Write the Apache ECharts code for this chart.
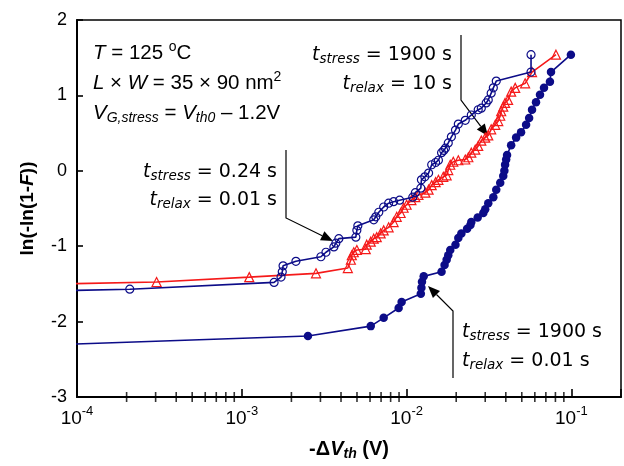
<!DOCTYPE html>
<html>
<head>
<meta charset="utf-8">
<script src="https://cdn.jsdelivr.net/npm/echarts@6.0.0/dist/echarts.min.js"></script>
<style>
  html, body { margin: 0; padding: 0; background: #fff; }
  #chart { width: 624px; height: 466px; }
</style>
</head>
<body>
<div id="chart"></div>
<script>
// t_stress = 0.24 s, t_relax = 0.01 s  (open circles)
const openX = [5e-5, 2.09e-4, 1.57e-3, 1.73e-3, 1.76e-3, 1.78e-3, 2.13e-3, 3.02e-3, 3.24e-3, 3.62e-3,
  3.72e-3, 3.88e-3, 4.92e-3, 4.99e-3, 5.06e-3, 6.32e-3, 6.5e-3, 6.78e-3, 7.26e-3, 7.78e-3,
  8.34e-3, 9.07e-3, 1.09e-2, 1.13e-2, 1.22e-2, 1.23e-2, 1.29e-2, 1.36e-2, 1.42e-2, 1.5e-2,
  1.56e-2, 1.63e-2, 1.68e-2, 1.72e-2, 1.79e-2, 1.87e-2, 1.98e-2, 2.06e-2, 2.27e-2, 2.47e-2,
  2.72e-2, 2.84e-2, 3.04e-2, 3.13e-2, 3.26e-2, 3.36e-2, 3.5e-2, 5.69e-2, 5.69e-2];
const openY = [-1.60, -1.57, -1.48, -1.41, -1.34, -1.26, -1.20, -1.14, -1.08, -1.01,
  -0.96, -0.90, -0.88, -0.79, -0.73, -0.65, -0.61, -0.55, -0.48, -0.43,
  -0.41, -0.39, -0.35, -0.29, -0.23, -0.12, -0.08, -0.03, 0.08, 0.11,
  0.14, 0.24, 0.27, 0.30, 0.37, 0.45, 0.54, 0.62, 0.67, 0.74,
  0.81, 0.83, 0.90, 0.94, 1.03, 1.10, 1.19, 1.31, 1.54];

// t_stress = 1900 s, t_relax = 10 s  (open triangles)
const triX = [5e-5, 3.04e-4, 1.11e-3, 2.82e-3, 4.4e-3, 4.59e-3, 4.65e-3, 4.78e-3, 4.99e-3, 5.65e-3,
  5.73e-3, 6.06e-3, 6.32e-3, 6.59e-3, 6.96e-3, 7.26e-3, 7.78e-3, 8.34e-3, 8.71e-3, 9.2e-3,
  9.59e-3, 1.0e-2, 1.07e-2, 1.13e-2, 1.18e-2, 1.3e-2, 1.36e-2, 1.42e-2, 1.5e-2, 1.56e-2,
  1.67e-2, 1.75e-2, 1.79e-2, 1.84e-2, 1.92e-2, 2.06e-2, 2.27e-2, 2.37e-2, 2.47e-2, 2.61e-2,
  2.72e-2, 2.84e-2, 3.0e-2, 3.13e-2, 3.26e-2, 3.45e-2, 3.6e-2, 3.7e-2, 3.75e-2, 3.86e-2,
  3.96e-2, 4.13e-2, 4.31e-2, 4.56e-2, 5.24e-2, 5.77e-2, 8.06e-2];
const triY = [-1.51, -1.475, -1.41, -1.36, -1.29, -1.18, -1.12, -1.08, -1.05, -1.04,
  -0.98, -0.94, -0.90, -0.88, -0.83, -0.79, -0.75, -0.68, -0.61, -0.56,
  -0.49, -0.45, -0.39, -0.35, -0.32, -0.29, -0.25, -0.19, -0.15, -0.12,
  -0.08, -0.06, 0.01, 0.08, 0.12, 0.14, 0.15, 0.18, 0.24, 0.28,
  0.33, 0.40, 0.44, 0.47, 0.55, 0.61, 0.66, 0.73, 0.79, 0.85,
  0.90, 0.94, 1.05, 1.10, 1.16, 1.31, 1.54];

// t_stress = 1900 s, t_relax = 0.01 s  (filled circles)
const fillX = [5e-5, 2.52e-3, 6.06e-3, 7.26e-3, 8.95e-3, 9.33e-3, 1.22e-2, 1.23e-2, 1.24e-2, 1.27e-2,
  1.63e-2, 1.7e-2, 1.75e-2, 1.79e-2, 1.84e-2, 1.98e-2, 2.06e-2, 2.15e-2, 2.33e-2, 2.44e-2,
  2.47e-2, 2.7e-2, 2.92e-2, 3.0e-2, 3.13e-2, 3.36e-2, 3.5e-2, 3.7e-2, 3.86e-2, 3.92e-2,
  3.96e-2, 4.02e-2, 4.07e-2, 4.31e-2, 4.62e-2, 4.95e-2, 5.31e-2, 5.54e-2, 5.77e-2, 6.1e-2,
  6.45e-2, 6.82e-2, 7.41e-2, 7.52e-2, 9.93e-2];
const fillY = [-2.32, -2.19, -2.06, -1.95, -1.82, -1.74, -1.63, -1.55, -1.47, -1.40,
  -1.34, -1.25, -1.18, -1.12, -1.05, -0.98, -0.89, -0.83, -0.77, -0.72,
  -0.68, -0.62, -0.56, -0.51, -0.43, -0.35, -0.25, -0.16, -0.07, 0.0,
  0.08, 0.15, 0.21, 0.34, 0.44, 0.51, 0.61, 0.70, 0.81, 0.91,
  1.01, 1.10, 1.18, 1.31, 1.54];

const yTicks = [-3, -2, -1, 0, 1, 2];

const navy = '#0c0c88';
const red = '#f51a1a';

const zip = (xs, ys) => xs.map((x, i) => [x, ys[i]]);

// minor ticks 2..9 of each decade on the log axis
const minorTicks = [];
for (let d = -4; d <= -1; d++) {
  for (let k = 2; k <= 9; k++) {
    const v = k * Math.pow(10, d);
    if (v < 0.2) minorTicks.push([v, -3]);
  }
}

const chart = echarts.init(document.getElementById('chart'));

const subFont = { fontFamily: 'DejaVu Sans', fontSize: 13.5, fontStyle: 'italic', padding: [9, 0, 0, 0], fill: '#000', color: '#000' };
const annRich = {
  t: { fontFamily: 'DejaVu Sans', fontSize: 19, fontStyle: 'italic', fill: '#000', color: '#000' },
  s: subFont,
  n: { fontFamily: 'DejaVu Sans', fontSize: 19, fill: '#000', color: '#000' }
};
const infoRich = {
  i: { fontFamily: 'Liberation Sans', fontSize: 20.5, fontStyle: 'italic', fill: '#000', color: '#000' },
  n: { fontFamily: 'Liberation Sans', fontSize: 20.5, fill: '#000', color: '#000' },
  sup: { fontFamily: 'Liberation Sans', fontSize: 14, padding: [0, 0, 12, 0], fill: '#000', color: '#000' },
  sub: { fontFamily: 'Liberation Sans', fontSize: 14, fontStyle: 'italic', padding: [10, 0, 0, 0], fill: '#000', color: '#000' }
};

function txt(x, y, text, rich, align) {
  return { type: 'text', x: x, y: y, silent: true,
    style: { text: text, rich: rich, align: align, verticalAlign: 'middle', fill: '#000' } };
}

function arrow(pts) {
  const tip = pts[pts.length - 1], prev = pts[pts.length - 2];
  const dx = tip[0] - prev[0], dy = tip[1] - prev[1];
  const len = Math.sqrt(dx * dx + dy * dy);
  const ux = dx / len, uy = dy / len;
  const hl = 12, hw = 5;
  const bx = tip[0] - ux * hl, by = tip[1] - uy * hl;
  const linePts = pts.slice(0, -1).concat([[bx, by]]);
  return [
    { type: 'polyline', silent: true, shape: { points: linePts }, style: { stroke: '#000', lineWidth: 1.2, fill: null } },
    { type: 'polygon', silent: true, shape: { points: [tip, [bx - uy * hw, by + ux * hw], [bx + uy * hw, by - ux * hw]] }, style: { fill: '#000' } }
  ];
}

const graphics = [
  txt(93, 53, '{i|T}{n| = 125 }{sup|o}{n|C}', infoRich, 'left'),
  txt(93, 83, '{i|L}{n| × }{i|W}{n| = 35 × 90 nm}{sup|2}', infoRich, 'left'),
  txt(93, 113, '{i|V}{sub|G,stress}{n| = }{i|V}{sub|th0}{n| – 1.2V}', infoRich, 'left'),

  txt(452, 55, '{t|t}{s|stress}{n| = 1900 s}', annRich, 'right'),
  txt(452, 84, '{t|t}{s|relax}{n| = 10 s}', annRich, 'right'),

  txt(277, 172, '{t|t}{s|stress}{n| = 0.24 s}', annRich, 'right'),
  txt(277, 200, '{t|t}{s|relax}{n| = 0.01 s}', annRich, 'right'),

  txt(462, 332, '{t|t}{s|stress}{n| = 1900 s}', annRich, 'left'),
  txt(462, 361, '{t|t}{s|relax}{n| = 0.01 s}', annRich, 'left')
].concat(
  arrow([[461, 35], [461, 100], [488, 136]]),
  arrow([[286, 150], [286, 218], [333, 241]]),
  arrow([[453, 378], [453, 311], [428, 286]])
);

const option = {
  animation: false,
  backgroundColor: '#fff',
  grid: { left: 77, right: 3, top: 20, bottom: 69, show: true, borderColor: '#000', borderWidth: 1.5 },
  xAxis: {
    type: 'log',
    logBase: 10,
    min: 1e-4,
    max: 0.2,
    name: '{b|-Δ}{bi|V}{sub|th}{b| (V)}',
    nameLocation: 'middle',
    nameGap: 40,
    nameTextStyle: {
      rich: {
        b: { fontFamily: 'Liberation Sans', fontSize: 20, fontWeight: 'bold', color: '#000' },
        bi: { fontFamily: 'Liberation Sans', fontSize: 20, fontWeight: 'bold', fontStyle: 'italic', color: '#000' },
        sub: { fontFamily: 'Liberation Sans', fontSize: 14, fontWeight: 'bold', fontStyle: 'italic', color: '#000', padding: [10, 0, 0, 0] }
      }
    },
    axisLine: { onZero: false, lineStyle: { color: '#000', width: 2 } },
    axisTick: { inside: true, length: 8, lineStyle: { color: '#000', width: 1.6 } },
    splitLine: { show: false },
    axisLabel: {
      margin: 8,
      formatter: function (v) {
        const e = Math.round(Math.log10(v));
        if (Math.abs(Math.log10(v) - e) > 1e-6) return '';
        return '{b|10}{sup|' + e + '}';
      },
      rich: {
        b: { fontFamily: 'Liberation Sans', fontSize: 19, color: '#000' },
        sup: { fontFamily: 'Liberation Sans', fontSize: 13, color: '#000', padding: [0, 0, 14, 0] }
      }
    }
  },
  yAxis: {
    type: 'value',
    min: -3,
    max: 2,
    interval: 1,
    name: '{b|ln(-ln(1-}{bi|F}{b|))}',
    nameLocation: 'middle',
    nameRotate: 90,
    nameGap: 40,
    nameTextStyle: {
      rich: {
        b: { fontFamily: 'Liberation Sans', fontSize: 19, fontWeight: 'bold', color: '#000' },
        bi: { fontFamily: 'Liberation Sans', fontSize: 19, fontWeight: 'bold', fontStyle: 'italic', color: '#000' }
      }
    },
    axisLine: { show: true, onZero: false, lineStyle: { color: '#000', width: 2 } },
    axisTick: { show: true, inside: true, length: 6, lineStyle: { color: '#000', width: 1.6 } },
    splitLine: { show: false },
    axisLabel: {
      margin: 10,
      color: '#000',
      fontFamily: 'Liberation Sans',
      fontSize: 18,
      formatter: function (v) { return yTicks.indexOf(v) >= 0 ? String(v) : ''; }
    }
  },
  series: [
    {
      name: 'minor ticks',
      type: 'scatter',
      silent: true,
      data: minorTicks,
      symbol: 'rect',
      symbolSize: [1.6, 10],
      symbolOffset: [0, 0],
      itemStyle: { color: '#000' },
      clip: true,
      z: 5
    },
    {
      name: '1900 s / 0.01 s',
      type: 'line',
      data: zip(fillX, fillY),
      symbol: 'circle',
      symbolSize: 8.5,
      showAllSymbol: true,
      lineStyle: { color: navy, width: 1.6 },
      itemStyle: { color: navy, borderColor: navy, borderWidth: 0 },
      z: 2
    },
    {
      name: '1900 s / 10 s',
      type: 'line',
      data: zip(triX, triY),
      symbol: 'triangle',
      symbolSize: 9,
      showAllSymbol: true,
      lineStyle: { color: red, width: 1.6 },
      itemStyle: { color: 'rgba(255,255,255,0)', borderColor: red, borderWidth: 1.2 },
      z: 3
    },
    {
      name: '0.24 s / 0.01 s',
      type: 'line',
      data: zip(openX, openY),
      symbol: 'circle',
      symbolSize: 8,
      showAllSymbol: true,
      lineStyle: { color: navy, width: 1.6 },
      itemStyle: { color: 'rgba(255,255,255,0)', borderColor: navy, borderWidth: 1.2 },
      z: 4
    }
  ],
  graphic: graphics
};

chart.setOption(option);
</script>
</body>
</html>
